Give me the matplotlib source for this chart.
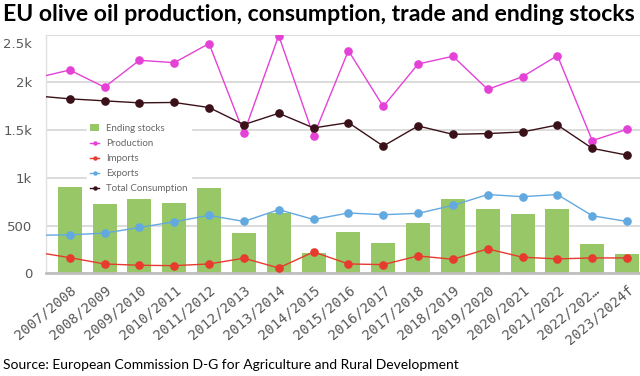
import matplotlib
matplotlib.use("Agg")
import matplotlib.pyplot as plt
import matplotlib.transforms as mtransforms
import numpy as np

# seasons on the x axis
seasons = ['2007/2008', '2008/2009', '2009/2010', '2010/2011', '2011/2012',
           '2012/2013', '2013/2014', '2014/2015', '2015/2016', '2016/2017',
           '2017/2018', '2018/2019', '2019/2020', '2020/2021', '2021/2022',
           '2022/202…', '2023/2024f']

# thousand tonnes
ending_stocks = [909, 727, 779, 740, 898, 421, 632, 211, 435, 322,
                 530, 782, 677, 617, 670, 309, 203]
production = [2130, 1950, 2232, 2207, 2407, 1467, 2491, 1438, 2333, 1748,
              2193, 2274, 1927, 2060, 2281, 1390, 1509]
imports = [164, 98, 84, 80, 98, 158, 56, 224, 98, 91,
           182, 147, 256, 168, 151, 161, 161]
exports = [403, 421, 480, 540, 607, 543, 667, 564, 632, 614,
           628, 712, 825, 803, 825, 603, 543]
consumption = [1828, 1807, 1786, 1790, 1737, 1558, 1677, 1523, 1579, 1333,
               1544, 1456, 1464, 1481, 1554, 1309, 1238]

# 2006/2007 values: the lines run in from the left edge of the plot
prev_production = 2044
prev_imports = 224
prev_exports = 398
prev_consumption = 1860

C_STOCK = '#98c767'
C_PROD = '#e442d6'
C_IMP = '#e63b2e'
C_EXP = '#62a9e0'
C_CONS = '#3a1118'

fig = plt.figure(figsize=(6.4, 3.76), dpi=100)
ax = fig.add_axes([46 / 640, 1 - 273.3 / 376, 594 / 640, (273.3 - 34.7) / 376])

x = np.arange(len(seasons))
xl = np.arange(-1, len(seasons))

bars = ax.bar(x, ending_stocks, width=0.69, color=C_STOCK, label='Ending stocks', zorder=2)
handles = [bars]

series = [
    ('Production', [prev_production] + production, C_PROD),
    ('Imports', [prev_imports] + imports, C_IMP),
    ('Exports', [prev_exports] + exports, C_EXP),
    ('Total Consumption', [prev_consumption] + consumption, C_CONS),
]
for name, vals, col in series:
    ax.plot(xl, vals, color=col, lw=1.0, zorder=3)
    ax.plot(x, vals[1:], 'o', color=col, ms=5.2, zorder=4)
    h, = ax.plot([], [], '-o', color=col, lw=1.0, ms=2.2, label=name)
    handles.append(h)

ax.set_xlim(-0.68, 16.37)
ax.set_ylim(0, 2500)
ax.set_yticks([0, 500, 1000, 1500, 2000, 2500])
ax.set_yticklabels(['0', '500', '1k', '1.5k', '2k', '2.5k'])
ax.set_xticks(x)
ax.set_xticklabels(seasons, rotation=40, ha='right', rotation_mode='anchor',
                   family='DejaVu Sans Mono', fontsize=10, color='#595959')
ax.tick_params(axis='x', length=0, pad=7)
ax.tick_params(axis='y', length=0, pad=10, labelsize=9.5, labelcolor='#595959')

# top label sits a little below its grid line
lbl = ax.get_yticklabels()[-1]
lbl.set_transform(lbl.get_transform() + mtransforms.ScaledTranslation(0, -8 / 100, fig.dpi_scale_trans))

ax.grid(axis='y', color='#d9d9d9', lw=1.3, zorder=0)
ax.set_axisbelow(True)
for s in ['top', 'right']:
    ax.spines[s].set_visible(False)
ax.spines['left'].set_color('#e0e0e0')
ax.spines['left'].set_linewidth(1.0)
ax.spines['bottom'].set_color('#bfbfbf')
ax.spines['bottom'].set_linewidth(2.0)

leg = ax.legend(handles=handles, loc='upper left', bbox_to_anchor=(0.069, 0.64), frameon=True,
                fancybox=False, framealpha=1, edgecolor='white', facecolor='white',
                prop={'family': 'Lato', 'size': 7}, labelcolor='#666666',
                handlelength=0.9, handleheight=0.7, handletextpad=0.7,
                labelspacing=0.62, borderpad=0.35, borderaxespad=0)
leg.set_zorder(5)

fig.text(3 / 640, 1 - 4 / 376, 'EU olive oil production, consumption, trade and ending stocks',
         family='Lato', weight='bold', fontsize=16.6, va='top', ha='left')
fig.text(3 / 640, 1 - 365 / 376, 'Source: European Commission D-G for Agriculture and Rural Development',
         family='Lato', fontsize=10, va='center', ha='left')

fig.savefig('out.png', dpi=100)
